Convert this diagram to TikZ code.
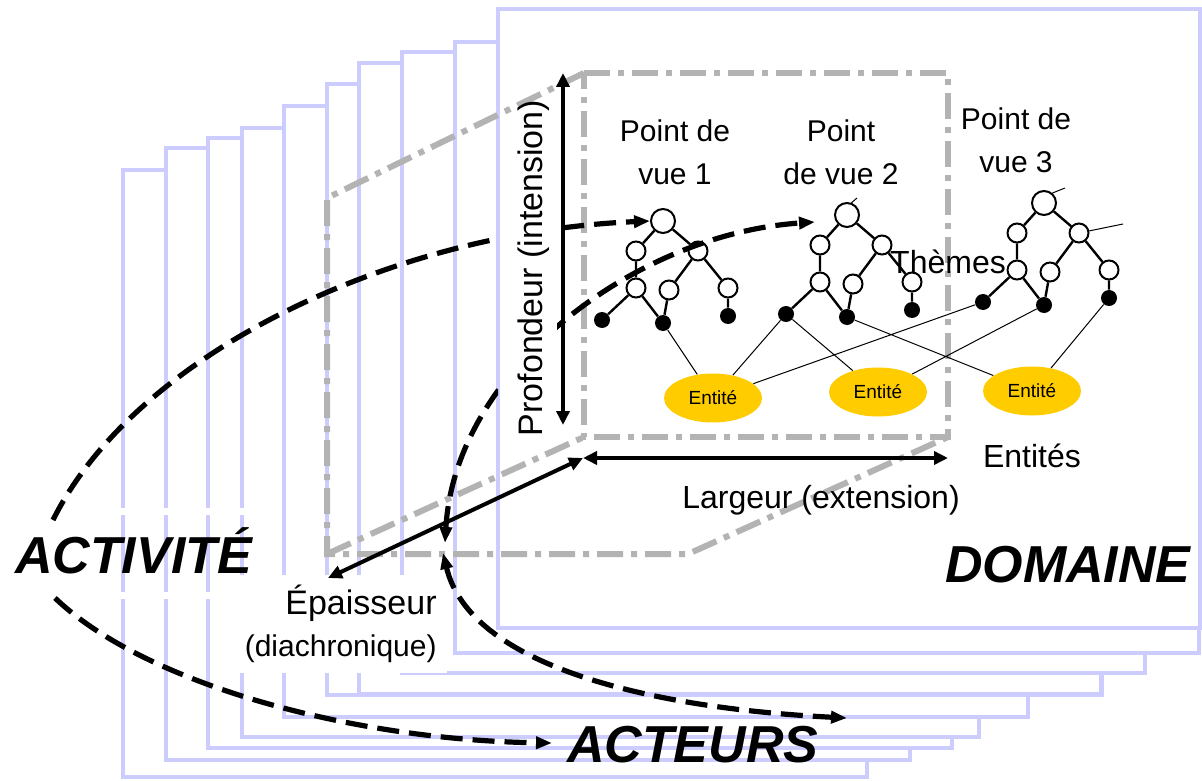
\documentclass[tikz,border=0pt]{standalone}
\usepackage{fontspec}
\setmainfont{Liberation Sans}
\usepackage{tikz}
\usetikzlibrary{
  arrows.meta,
  shapes.geometric}
\definecolor{pagelav}{HTML}{CCCCFF}
\definecolor{boxgray}{HTML}{B3B3B3}
\definecolor{entgold}{HTML}{FFCC00}
\tikzset{
  pagebox/.style={draw=pagelav, fill=white, line width=2.2pt},
  boxline/.style={boxgray, line width=3pt, dash pattern=on 13pt off 4pt on 3pt off 4pt},
  axisarrow/.style={line width=2pt, >={Triangle[length=7pt,width=6.5pt]}},
  flowcurve/.style={line width=2.6pt, dash pattern=on 11pt off 5pt, >={Triangle[length=8pt,width=6pt]}},
  themenode/.style={circle, draw, fill=white, line width=1pt, minimum size=9.5pt, inner sep=0pt},
  rootnode/.style={themenode, minimum size=12pt},
  leafnode/.style={circle, fill=black, minimum size=8pt, inner sep=0pt},
  treeedge/.style={line width=1.2pt},
  linkline/.style={line width=0.5pt},
  entite/.style={ellipse, fill=entgold, minimum width=49pt, minimum height=24.5pt, inner sep=0pt, font=\fontsize{9.5}{11}\selectfont},
  viewlabel/.style={align=center, font=\fontsize{15}{21.5}\selectfont},
  axislabel/.style={font=\fontsize{16}{19}\selectfont},
  bigword/.style={font=\fontsize{26}{31}\selectfont\bfseries\itshape}
}
% one point of view: root, themes and leaves
\newcommand{\viewtree}[3]{%
  \begin{scope}[shift={(#2,#3)}]
    \node[rootnode] (#1r) at (0,0) {};
    \node[themenode] (#1a) at (-27,30) {};
    \node[themenode] (#1b) at (35,30) {};
    \node[themenode] (#1c) at (-27,67) {};
    \node[themenode] (#1d) at (6,69) {};
    \node[themenode] (#1e) at (65,67) {};
    \node[leafnode] (#1f) at (-61,99) {};
    \node[leafnode] (#1g) at (0,102) {};
    \node[leafnode] (#1h) at (65,95) {};
    \draw[treeedge] (#1r) -- (#1a) (#1r) -- (#1b) (#1a) -- (#1c)
      (#1c) -- (#1f) (#1c) -- (#1g) (#1b) -- (#1d) (#1b) -- (#1e)
      (#1d) -- (#1g) (#1e) -- (#1h);
  \end{scope}}

\begin{document}
\begin{tikzpicture}[x=0.5pt, y=-0.5pt]
\useasboundingbox (0,0) rectangle (1202,780);

%Stack of pages
\foreach \lx/\ty/\rx/\by in {123/170/867/777, 166/148/910/760, 208/138/952/748,
  242/128/979/737, 284/106/1028/717, 327/84/1102/695, 359/63/1101/694,
  402/52/1145/673, 455/42/1199/653}
  \draw[pagebox] (\lx,\ty) rectangle (\rx,\by);
\draw[pagebox] (498,9) rectangle (1200,628);

\node[bigword, draw=white, line width=3.5pt, inner sep=0pt, minimum width=128.5pt,
  text height=30.75pt, text depth=11pt, anchor=base] (activite) at (133.5,573) {ACTIVITÉ};
\node[fill=white, inner sep=5pt, align=right, font=\fontsize{17}{21}\selectfont,
  anchor=east] (epaisseur) at (447,623.8) {Épaisseur\\{\fontsize{15}{21}\selectfont (diachronique)}};

%Perspective box
\coordinate (fTL) at (584,73);
\coordinate (fTR) at (948,73);
\coordinate (fBR) at (948,437);
\coordinate (fBL) at (584,437);
\coordinate (bTL) at (327,198);
\coordinate (bBL) at (327,554);
\coordinate (bBR) at (688,554);
\draw[boxline] (fTL) -- (fTR) -- (fBR) -- (fBL) -- cycle;
\draw[boxline] (fTL) -- (bTL) -- (bBL) -- (bBR) -- (fBR);
\draw[boxline] (bBL) -- (fBL);

%Points of view
\node[axislabel, anchor=base] (themes) at (948,273) {Thèmes};
\node[viewlabel] (pv1) at (675,152.5) {Point de\\vue 1};
\node[viewlabel] (pv2) at (841,152.5) {Point\\de vue 2};
\node[viewlabel] (pv3) at (1016,140.5) {Point de\\vue 3};

\viewtree{t1}{663}{221}
\viewtree{t2}{847}{215}
\viewtree{t3}{1044}{203}

\node[entite] (ent1) at (713,398) {Entité};
\node[entite] (ent2) at (878,392) {Entité};
\node[entite] (ent3) at (1032,391) {Entité};

\draw[linkline] (t1g) -- (ent1) (t2f) -- (ent1) (t3f) -- (ent1)
  (t2f) -- (ent2) (t3g) -- (ent2) (t2g) -- (ent3) (t3h) -- (ent3);
\coordinate (stub) at (1123,224);
\coordinate (tickA) at (1065,188);
\coordinate (tickB) at (857,198);
\draw[linkline] (t3b) -- (stub) (t3r.50) -- (tickA) (t2r.70) -- (tickB);

%Axes
\coordinate (origin) at (583,458);
\coordinate (profTop) at (563,73);
\coordinate (profBot) at (563,425);
\coordinate (largEnd) at (948,458);
\coordinate (epaisEnd) at (328,578);
\draw[axisarrow, <->] (profTop) -- (profBot);
\draw[axisarrow, <->] (origin) -- (largEnd);
\draw[axisarrow, <->] (origin) -- (epaisEnd);
\node[font=\fontsize{17}{20}\selectfont, rotate=90, anchor=base] (profondeur) at (542,268) {Profondeur (intension)};
\node[axislabel, anchor=base] (largeur) at (821,508) {Largeur (extension)};
\node[axislabel, anchor=base] (entites) at (1032,467) {Entités};

\node[bigword, anchor=base west] (domaine) at (938,582) {DOMAINE};
\node[bigword, anchor=base west] (acteurs) at (560,762) {ACTEURS};

%Flows
\coordinate (actTop) at (53,520);
\coordinate (actBot) at (55,598);
\coordinate (crossTop) at (445,543);
\coordinate (crossBot) at (443,553);
\coordinate (pv2tip) at (815,222);
\coordinate (acteursTip) at (552,743);
\coordinate (acteursEnd) at (847,718);
\begin{scope}
  \clip (0,0) -- (498,0) -- (498,628) -- (557,628) -- (557,0) -- (1202,0) -- (1202,780) -- (0,780) -- cycle;
  \draw[flowcurve, ->] (actTop) .. controls (135,355) and (390,232) .. (t1r.west);
  \draw[flowcurve, <->] (crossTop) .. controls (455,370) and (635,234) .. (pv2tip);
\end{scope}
\draw[flowcurve, ->] (actBot) .. controls (145,684) and (352,740) .. (acteursTip);
\draw[flowcurve, <->] (crossBot) .. controls (470,665) and (647,708) .. (acteursEnd);
\end{tikzpicture}
\end{document}
